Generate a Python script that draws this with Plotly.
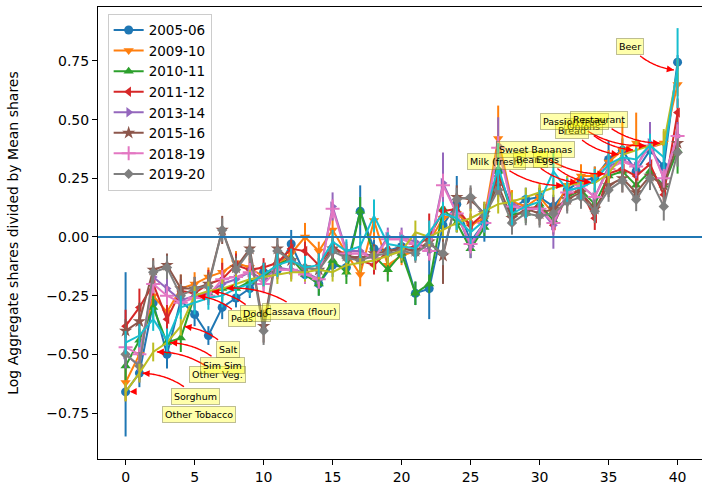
import math
import plotly.graph_objects as go

# ---------------------------------------------------------------- data
items = list(range(41))

seasons = ["2005-06", "2009-10", "2010-11", "2011-12",
           "2013-14", "2015-16", "2018-19", "2019-20"]

v_2005_06 = [-0.66, -0.58, -0.28, -0.50, -0.27, -0.33, -0.42, -0.30, -0.26, -0.22, -0.15,
             -0.14, -0.03, -0.16, -0.20, -0.12, -0.13, 0.11, -0.05, -0.06, -0.04, -0.24,
             -0.22, 0.05, 0.14, -0.02, 0.06, 0.28, 0.12, 0.16, 0.17, 0.13, 0.20, 0.24,
             0.25, 0.33, 0.37, 0.28, 0.37, 0.30, 0.745]
v_2009_10 = [-0.62, -0.50, -0.25, -0.32, -0.22, -0.20, -0.17, -0.15, -0.11, -0.13, -0.17,
             -0.12, -0.07, 0.00, -0.06, 0.03, -0.07, -0.16, 0.07, -0.12, -0.08, -0.06,
             -0.02, 0.08, 0.10, 0.05, 0.08, 0.42, 0.15, 0.13, 0.17, 0.10, 0.22, 0.26,
             0.26, 0.32, 0.37, 0.40, 0.38, 0.40, 0.65]
v_2010_11 = [-0.55, -0.44, -0.30, -0.45, -0.43, -0.25, -0.24, -0.22, -0.22, -0.19, -0.17,
             -0.12, -0.09, -0.16, -0.20, -0.10, -0.15, 0.11, -0.08, -0.14, -0.07, -0.24,
             -0.20, 0.12, 0.06, -0.05, 0.04, 0.28, 0.10, 0.10, 0.14, 0.07, 0.17, 0.20,
             0.14, 0.26, 0.28, 0.22, 0.28, 0.22, 0.37]
v_2011_12 = [-0.38, -0.30, -0.20, -0.35, -0.23, -0.24, -0.20, -0.18, -0.12, -0.14, -0.13,
             -0.11, -0.05, -0.06, -0.12, -0.04, -0.08, -0.10, -0.12, -0.06, -0.05, -0.04,
             0.00, 0.11, 0.12, 0.05, 0.10, 0.26, 0.13, 0.12, 0.13, 0.05, 0.18, 0.20,
             0.08, 0.27, 0.29, 0.26, 0.31, 0.18, 0.53]
v_2013_14 = [-0.50, -0.55, -0.17, -0.22, -0.27, -0.25, -0.24, -0.20, -0.18, -0.15, -0.18,
             -0.13, -0.14, -0.15, -0.18, 0.13, -0.06, -0.06, -0.09, 0.00, 0.00, -0.02,
             -0.06, 0.23, 0.10, -0.04, 0.06, 0.39, 0.14, 0.12, 0.12, 0.05, 0.19, 0.22,
             0.17, 0.30, 0.33, 0.30, 0.40, 0.25, 0.43]
v_2015_16 = [-0.40, -0.36, -0.14, -0.12, -0.22, -0.22, -0.20, 0.03, -0.13, -0.05, -0.38,
             -0.05, -0.10, -0.13, -0.14, -0.05, -0.08, -0.09, -0.07, -0.06, -0.05, -0.06,
             -0.02, -0.08, 0.17, 0.16, 0.10, 0.22, 0.08, 0.12, 0.10, 0.12, 0.16, 0.19,
             0.12, 0.22, 0.25, 0.19, 0.26, 0.22, 0.40]
v_2018_19 = [-0.47, -0.50, -0.20, -0.25, -0.28, -0.26, -0.25, -0.18, -0.17, -0.15, -0.20,
             -0.14, -0.14, -0.16, -0.18, 0.12, -0.07, -0.07, -0.09, -0.01, -0.01, -0.03,
             -0.06, 0.22, 0.10, -0.03, 0.06, 0.38, 0.13, 0.12, 0.12, 0.06, 0.19, 0.22,
             0.17, 0.29, 0.32, 0.30, 0.39, 0.25, 0.43]
v_2019_20 = [-0.50, -0.55, -0.15, -0.13, -0.25, -0.22, -0.21, 0.03, -0.14, -0.06, -0.40,
             -0.06, -0.10, -0.13, -0.14, -0.06, -0.09, -0.10, -0.08, -0.07, -0.06, -0.07,
             -0.03, -0.07, 0.16, 0.17, 0.09, 0.20, 0.06, 0.10, 0.09, 0.10, 0.15, 0.17,
             0.11, 0.20, 0.24, 0.16, 0.25, 0.13, 0.36]
v_mean = [-0.66, -0.58, -0.49, -0.45, -0.38, -0.25, -0.23, -0.22, -0.20, -0.18, -0.17,
          -0.16, -0.15, -0.15, -0.14, -0.15, -0.12, -0.11, -0.10, -0.08, -0.06, 0.02,
          0.00, 0.03, 0.06, 0.08, 0.11, 0.14, 0.15, 0.17, 0.19, 0.21, 0.22, 0.23,
          0.23, 0.27, 0.35, 0.37, 0.39, 0.40, 0.71]
v_extra = [-0.45, -0.42, -0.35, -0.44, -0.30, -0.28, -0.26, -0.25, -0.22, -0.20, -0.16,
           -0.12, -0.10, -0.13, -0.12, -0.02, -0.06, -0.04, 0.09, -0.03, -0.04, -0.05,
           0.02, 0.10, 0.08, 0.02, 0.07, 0.30, 0.10, 0.13, 0.15, 0.28, 0.20, 0.21,
           0.24, 0.31, 0.34, 0.33, 0.39, 0.34, 0.72]

# error bars: upper and lower half-lengths for 2005-06, symmetric for the rest
e_2005_06_up = [0.51, 0.06, 0.05, 0.06, 0.05, 0.05, 0.04, 0.05, 0.04, 0.04, 0.04, 0.04, 0.06,
                0.04, 0.05, 0.05, 0.04, 0.11, 0.04, 0.04, 0.04, 0.05, 0.13, 0.05, 0.12, 0.04,
                0.08, 0.06, 0.04, 0.05, 0.04, 0.05, 0.04, 0.04, 0.05, 0.08, 0.05, 0.05, 0.05,
                0.05, 0.03]
e_2005_06 = [0.19, 0.06, 0.05, 0.06, 0.05, 0.05, 0.04, 0.05, 0.04, 0.04, 0.04, 0.04, 0.06, 0.04,
             0.05, 0.05, 0.04, 0.11, 0.04, 0.04, 0.04, 0.05, 0.13, 0.05, 0.12, 0.04, 0.08, 0.06,
             0.04, 0.05, 0.04, 0.05, 0.04, 0.04, 0.05, 0.08, 0.05, 0.05, 0.05, 0.05, 0.03]
e_2009_10 = [0.08, 0.07, 0.05, 0.05, 0.06, 0.05, 0.04, 0.06, 0.05, 0.05, 0.04, 0.05, 0.04, 0.06,
             0.04, 0.05, 0.04, 0.05, 0.08, 0.04, 0.04, 0.04, 0.04, 0.05, 0.05, 0.04, 0.04, 0.14,
             0.05, 0.04, 0.05, 0.05, 0.04, 0.05, 0.04, 0.05, 0.12, 0.13, 0.05, 0.05, 0.05]
e_2010_11 = [0.06, 0.05, 0.05, 0.05, 0.06, 0.05, 0.04, 0.05, 0.04, 0.04, 0.04, 0.04, 0.05, 0.04,
             0.05, 0.04, 0.05, 0.06, 0.04, 0.05, 0.04, 0.05, 0.04, 0.05, 0.04, 0.04, 0.04, 0.05,
             0.04, 0.04, 0.07, 0.04, 0.04, 0.04, 0.04, 0.04, 0.05, 0.06, 0.05, 0.05, 0.10]
e_2011_12 = [0.07, 0.08, 0.05, 0.06, 0.05, 0.05, 0.06, 0.07, 0.05, 0.05, 0.04, 0.05, 0.04, 0.04,
             0.05, 0.04, 0.04, 0.05, 0.04, 0.04, 0.04, 0.04, 0.10, 0.05, 0.05, 0.05, 0.04, 0.05,
             0.04, 0.04, 0.05, 0.04, 0.05, 0.05, 0.05, 0.05, 0.05, 0.05, 0.06, 0.05, 0.06]
e_2013_14 = [0.06, 0.07, 0.05, 0.05, 0.05, 0.05, 0.05, 0.05, 0.04, 0.04, 0.04, 0.04, 0.04, 0.04,
             0.04, 0.06, 0.04, 0.04, 0.04, 0.04, 0.04, 0.04, 0.04, 0.13, 0.05, 0.05, 0.04, 0.12,
             0.04, 0.04, 0.04, 0.10, 0.04, 0.04, 0.04, 0.05, 0.05, 0.05, 0.09, 0.05, 0.06]
e_2015_16 = [0.05, 0.08, 0.05, 0.05, 0.06, 0.05, 0.05, 0.06, 0.05, 0.05, 0.07, 0.05, 0.05, 0.04,
             0.05, 0.04, 0.04, 0.04, 0.04, 0.04, 0.04, 0.04, 0.04, 0.12, 0.05, 0.05, 0.05, 0.05,
             0.05, 0.05, 0.05, 0.05, 0.05, 0.05, 0.05, 0.05, 0.06, 0.05, 0.05, 0.06, 0.06]
e_2018_19 = [0.04, 0.05, 0.04, 0.04, 0.04, 0.04, 0.04, 0.04, 0.04, 0.04, 0.04, 0.04, 0.04, 0.04,
             0.04, 0.04, 0.04, 0.04, 0.04, 0.04, 0.04, 0.04, 0.04, 0.05, 0.04, 0.04, 0.04, 0.05,
             0.04, 0.04, 0.04, 0.04, 0.04, 0.04, 0.04, 0.04, 0.04, 0.04, 0.04, 0.04, 0.05]
e_2019_20 = [0.05, 0.06, 0.05, 0.05, 0.05, 0.05, 0.05, 0.05, 0.05, 0.05, 0.06, 0.05, 0.05, 0.04,
             0.05, 0.04, 0.04, 0.04, 0.04, 0.04, 0.04, 0.04, 0.04, 0.05, 0.05, 0.05, 0.05, 0.05,
             0.05, 0.05, 0.05, 0.05, 0.05, 0.05, 0.05, 0.05, 0.05, 0.05, 0.05, 0.06, 0.06]
e_mean = [0.04, 0.04, 0.04, 0.04, 0.04, 0.04, 0.04, 0.04, 0.04, 0.04, 0.04, 0.04, 0.04, 0.04,
          0.04, 0.04, 0.04, 0.04, 0.04, 0.04, 0.04, 0.05, 0.04, 0.04, 0.04, 0.04, 0.04, 0.04,
          0.04, 0.04, 0.04, 0.04, 0.04, 0.05, 0.04, 0.04, 0.04, 0.04, 0.04, 0.06, 0.05]
e_extra = [0.05, 0.05, 0.05, 0.05, 0.05, 0.05, 0.05, 0.05, 0.05, 0.05, 0.05, 0.05, 0.05, 0.05,
           0.05, 0.05, 0.05, 0.05, 0.07, 0.05, 0.05, 0.05, 0.05, 0.05, 0.05, 0.05, 0.05, 0.10,
           0.05, 0.05, 0.05, 0.08, 0.05, 0.05, 0.05, 0.05, 0.05, 0.05, 0.05, 0.05, 0.17]

# labelled goods: position on x and name
low_labels = ["Other Tobacco", "Sorghum", "Other Veg.", "Sim Sim",
              "Salt", "Peas", "Dodo", "Cassava (flour)"]
low_index = [0, 1, 2, 3, 4, 5, 6, 7]
high_labels = ["Milk (fresh)", "Beans", "Eggs", "Sweet Bananas",
               "Bread", "Onions", "Passion fruits", "Restaurant", "Beer"]
high_index = [32, 33, 34, 35, 36, 37, 38, 39, 40]

# ---------------------------------------------------------------- styling
C = ["#1f77b4", "#ff7f0e", "#2ca02c", "#d62728", "#9467bd",
     "#8c564b", "#e377c2", "#7f7f7f", "#bcbd22", "#17becf"]
symbols = ["circle", "triangle-down", "triangle-up", "triangle-left",
           "triangle-right", "star", "cross-thin", "diamond"]
sizes = [9, 9, 9, 9, 9, 10, 10, 8]
FONT = "DejaVu Sans"

W, H = 702, 487
ML, MR, MT, MB = 98, 0, 7, 28
XR = [-2.0, 41.77]
YR = [-0.946, 0.980]
PW, PH = W - ML - MR, H - MT - MB


def to_px(x, y):
    return (ML + (x - XR[0]) / (XR[1] - XR[0]) * PW,
            MT + (YR[1] - y) / (YR[1] - YR[0]) * PH)


def to_data(px, py):
    return (XR[0] + (px - ML) / PW * (XR[1] - XR[0]),
            YR[1] - (py - MT) / PH * (YR[1] - YR[0]))


fig = go.Figure()

values = [v_2005_06, v_2009_10, v_2010_11, v_2011_12, v_2013_14,
          v_2015_16, v_2018_19, v_2019_20]
errors_up = [e_2005_06_up, e_2009_10, e_2010_11, e_2011_12, e_2013_14,
             e_2015_16, e_2018_19, e_2019_20]
errors_dn = [e_2005_06, e_2009_10, e_2010_11, e_2011_12, e_2013_14,
             e_2015_16, e_2018_19, e_2019_20]

for k, name in enumerate(seasons):
    marker = dict(symbol=symbols[k], size=sizes[k], color=C[k])
    if symbols[k] == "cross-thin":
        marker["line"] = dict(width=2, color=C[k])
    fig.add_trace(go.Scatter(
        x=items, y=values[k], name=name, mode="lines+markers",
        line=dict(color=C[k], width=2), marker=marker,
        error_y=dict(type="data", symmetric=False, array=errors_up[k],
                     arrayminus=errors_dn[k], color=C[k], thickness=2, width=0),
    ))

for k, (vals, errs) in enumerate([(v_mean, e_mean), (v_extra, e_extra)]):
    fig.add_trace(go.Scatter(
        x=items, y=vals, mode="lines", showlegend=False,
        line=dict(color=C[8 + k], width=2),
        error_y=dict(type="data", array=errs, color=C[8 + k], thickness=2, width=0),
    ))

fig.add_hline(y=0, line=dict(color=C[0], width=2), layer="above")

# ---------------------------------------------------------------- labels with curved arrows
CHAR_W = 5.7
PAD = 4
RAD = 0.2
shapes = []
annotations = []


def add_label(idx, text, low):
    px, py = to_px(items[idx], v_mean[idx])
    tw = len(text) * CHAR_W + 2 * PAD
    th = 16
    if low:
        bx0 = px + 32
        cy = py + 23
    else:
        bx0 = px - 32 - tw
        cy = py - 24
    bx1 = bx0 + tw
    cx = (bx0 + bx1) / 2
    by0, by1 = cy - th / 2, cy + th / 2
    ax_data = to_data(cx, cy)
    annotations.append(dict(
        x=ax_data[0], y=ax_data[1], xref="x", yref="y", text=text,
        showarrow=False, xanchor="center", yanchor="middle",
        font=dict(family=FONT, size=9.5, color="black"),
        bgcolor="rgba(255,255,0,0.33)", bordercolor="rgba(110,110,60,0.45)",
        borderwidth=1, borderpad=2,
    ))
    # quadratic arc (arc3) from text centre to the point
    sx, sy = cx, cy
    ex, ey = px, py
    dx, dy = ex - sx, ey - sy
    qx = (sx + ex) / 2 - RAD * dy
    qy = (sy + ey) / 2 + RAD * dx
    pts = []
    n = 60
    for i in range(n + 1):
        t = i / n
        x = (1 - t) ** 2 * sx + 2 * (1 - t) * t * qx + t ** 2 * ex
        y = (1 - t) ** 2 * sy + 2 * (1 - t) * t * qy + t ** 2 * ey
        inside = bx0 - 1 <= x <= bx1 + 1 and by0 - 1 <= y <= by1 + 1
        if inside or math.hypot(x - ex, y - ey) < 3:
            continue
        pts.append((x, y))
    path = ""
    for i, (x, y) in enumerate(pts):
        d = to_data(x, y)
        path += ("M" if i == 0 else " L") + f"{d[0]:.4f},{d[1]:.4f}"
    shapes.append(dict(type="path", path=path, xref="x", yref="y",
                       line=dict(color="red", width=1.4), layer="above"))
    # arrow head along the final tangent
    hx, hy = pts[-1]
    tx, ty = pts[-4]
    L = math.hypot(hx - tx, hy - ty)
    head = to_data(hx, hy)
    annotations.append(dict(
        x=head[0], y=head[1], xref="x", yref="y", text="",
        showarrow=True, arrowhead=2, arrowsize=1, arrowwidth=1.4,
        arrowcolor="red", standoff=0, startstandoff=0,
        ax=(tx - hx) / L * 7, ay=(ty - hy) / L * 7,
    ))


for idx, text in zip(low_index, low_labels):
    add_label(idx, text, True)
for idx, text in zip(high_index, high_labels):
    add_label(idx, text, False)

fig.update_layout(
    width=W, height=H,
    margin=dict(l=ML, r=MR, t=MT, b=MB, pad=0),
    paper_bgcolor="white", plot_bgcolor="white",
    font=dict(family=FONT, size=14, color="black"),
    showlegend=True,
    legend=dict(x=0.016, y=0.985, xanchor="left", yanchor="top",
                bgcolor="rgba(255,255,255,0.8)", bordercolor="#cccccc",
                borderwidth=1, font=dict(family=FONT, size=13.5),
                tracegroupgap=0),
    shapes=shapes,
    annotations=annotations,
)
fig.update_xaxes(range=XR, tickvals=[0, 5, 10, 15, 20, 25, 30, 35, 40],
                 ticks="outside", ticklen=5, tickwidth=1, tickcolor="black",
                 showline=True, linecolor="black", linewidth=1, mirror=True,
                 showgrid=False, zeroline=False,
                 tickfont=dict(family=FONT, size=14))
fig.update_yaxes(range=YR, tickvals=[-0.75, -0.5, -0.25, 0, 0.25, 0.5, 0.75],
                 tickformat=".2f",
                 ticks="outside", ticklen=5, tickwidth=1, tickcolor="black",
                 showline=True, linecolor="black", linewidth=1, mirror=False,
                 showgrid=False, zeroline=False,
                 tickfont=dict(family=FONT, size=14),
                 title=dict(text="Log Aggregate shares divided by Mean shares",
                            font=dict(family=FONT, size=14), standoff=24))

fig.write_html("out.html")
